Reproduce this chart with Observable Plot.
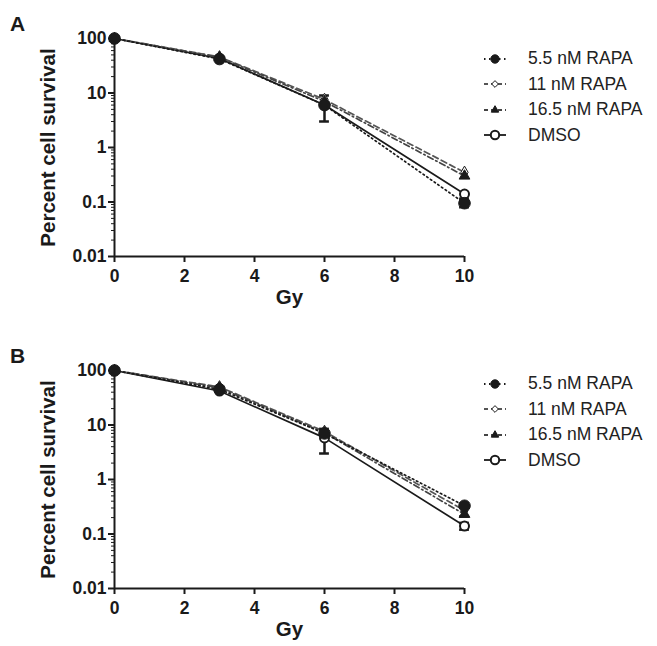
<!DOCTYPE html>
<html>
<head>
<meta charset="utf-8">
<script src="https://cdn.jsdelivr.net/npm/d3@7"></script>
<script src="https://cdn.jsdelivr.net/npm/@observablehq/plot@0.6"></script>
<style>
  body { margin: 0; background: #fff; font-family: "Liberation Sans", Arial, sans-serif; }
  #root { width: 657px; }
  .panel { position: relative; width: 657px; height: 332px; }
  .plabel { position: absolute; left: 10px; top: 12px; font-weight: bold; font-size: 21px; color: #1a1a1a; }
  .legend { position: absolute; left: 484px; font-size: 17.5px; color: #222; }
  .legend .row { display: flex; align-items: center; height: 25.5px; }
  .legend svg { margin-right: 22px; }
</style>
</head>
<body>
<div id="root"></div>
<script>
const gy = [0, 3, 6, 10];
const seriesNames = ["5.5 nM RAPA", "11 nM RAPA", "16.5 nM RAPA", "DMSO"];

// Panel A values (percent survival)
const a_55 = [100, 42, 6.0, 0.095];
const a_11 = [100, 46, 7.6, 0.35];
const a_165 = [100, 45, 7.0, 0.30];
const a_dmso = [100, 43, 6.0, 0.14];
// Panel A error bars
const a_errGy = [6, 10];
const a_errLo = [3.0, 0.08];
const a_errHi = [9.0, 0.115];

// Panel B values
const b_55 = [100, 45, 7.0, 0.33];
const b_11 = [100, 50, 7.6, 0.27];
const b_165 = [100, 48, 7.2, 0.23];
const b_dmso = [100, 42, 5.8, 0.14];
const b_errGy = [6, 10, 10];
const b_errLo = [3.0, 0.12, 0.21];
const b_errHi = [8.5, 0.16, 0.36];

const yTicks = [100, 10, 1, 0.1, 0.01];
const xTicks = [0, 2, 4, 6, 8, 10];

const styles = {
  "5.5 nM RAPA": {stroke: "#1a1a1a", dash: "1.5,3", symbol: "circle", fill: "#1a1a1a", r: 5.8, sw: 1},
  "11 nM RAPA": {stroke: "#555", dash: "6,3.5", symbol: "diamond", fill: "#fff", r: 3.8, sw: 1},
  "16.5 nM RAPA": {stroke: "#444", dash: "6,3,1.5,3", symbol: "triangle", fill: "#1a1a1a", r: 4, sw: 1},
  "DMSO": {stroke: "#1a1a1a", dash: null, symbol: "circle", fill: "#fff", r: 4.5, sw: 2}
};

const minor = [];
for (let e = -2; e < 2; e++) for (let k = 2; k <= 9; k++) minor.push(k * Math.pow(10, e));

function makeRows(vals) {
  const rows = [];
  seriesNames.forEach((s, i) => vals[i].forEach((v, j) => rows.push({series: s, gy: gy[j], v})));
  return rows;
}
function makeErr(g, lo, hi) { return g.map((d, i) => ({gy: d, lo: lo[i], hi: hi[i]})); }

function panel(label, vals, err, legendTop) {
  const rows = makeRows(vals);
  const drawOrder = ["DMSO", "11 nM RAPA", "16.5 nM RAPA", "5.5 nM RAPA"];
  const marks = [];
  for (const s of drawOrder) {
    const st = styles[s];
    marks.push(Plot.line(rows.filter(d => d.series === s), {x: "gy", y: "v", stroke: st.stroke, strokeWidth: 1.7, strokeDasharray: st.dash}));
  }
  marks.push(Plot.ruleX(err, {x: "gy", y1: "lo", y2: "hi", stroke: "#1a1a1a", strokeWidth: 2.5}));
  marks.push(Plot.ruleY(err, {y: "lo", x1: d => d.gy - 0.14, x2: d => d.gy + 0.14, stroke: "#1a1a1a", strokeWidth: 2.5}));
  marks.push(Plot.ruleY(err, {y: "hi", x1: d => d.gy - 0.14, x2: d => d.gy + 0.14, stroke: "#1a1a1a", strokeWidth: 2.5}));
  for (const s of drawOrder) {
    const st = styles[s];
    marks.push(Plot.dot(rows.filter(d => d.series === s), {x: "gy", y: "v", symbol: st.symbol, r: st.r, fill: st.fill, stroke: "#1a1a1a", strokeWidth: st.sw}));
  }
  marks.push(Plot.axisY({ticks: minor, tickSize: 3, tickFormat: () => "", strokeWidth: 1, label: null}));
  marks.push(Plot.axisY({ticks: yTicks, tickSize: 6, tickPadding: 2, tickFormat: d => String(d), strokeWidth: 2, label: null, fontWeight: "bold", fontSize: 17.5}));
  marks.push(Plot.axisX({ticks: xTicks, tickSize: 6, tickPadding: 7, strokeWidth: 2, label: null, fontWeight: "bold", fontSize: 17.5}));
  marks.push(Plot.ruleX([0], {stroke: "#1a1a1a", strokeWidth: 2}));
  marks.push(Plot.ruleY([0.01], {stroke: "#1a1a1a", strokeWidth: 2}));
  marks.push(Plot.text(["Percent cell survival"], {frameAnchor: "left", textAnchor: "middle", text: d => d, rotate: -90, dx: -66, fontSize: 20.5, fontWeight: "bold", fill: "#1a1a1a"}));
  marks.push(Plot.text(["Gy"], {frameAnchor: "bottom", text: d => d, dy: 47, fontSize: 20.5, fontWeight: "bold", fill: "#1a1a1a"}));

  const chart = Plot.plot({
    width: 657, height: 332,
    marginLeft: 114, marginRight: 193, marginTop: 38, marginBottom: 76,
    x: {domain: [0, 10]},
    y: {type: "log", domain: [0.01, 100]},
    style: {fontFamily: "Liberation Sans, Arial, sans-serif", color: "#1a1a1a", overflow: "visible"},
    marks
  });

  const div = document.createElement("div");
  div.className = "panel";
  div.appendChild(chart);
  const pl = document.createElement("div");
  pl.className = "plabel"; pl.textContent = label;
  div.appendChild(pl);

  const lg = document.createElement("div");
  lg.className = "legend";
  lg.style.top = legendTop + "px";
  for (const s of seriesNames) {
    const st = styles[s];
    const row = document.createElement("div"); row.className = "row";
    const sv = d3.create("svg").attr("width", 22).attr("height", 14);
    sv.append("line").attr("x1", 0).attr("x2", 22).attr("y1", 7).attr("y2", 7)
      .attr("stroke", st.stroke).attr("stroke-width", 1.8).attr("stroke-dasharray", st.dash ? (st.dash === "1.5,3" ? "1.5,3.5" : "4,3") : null);
    const sym = {circle: d3.symbolCircle, diamond: d3.symbolDiamond2, triangle: d3.symbolTriangle}[st.symbol];
    const rr = st.symbol === "circle" ? 4.2 : st.r;
    const area = {circle: Math.PI * rr * rr, diamond: 2 * rr * rr, triangle: 1.5 * rr * rr}[st.symbol];
    sv.append("path").attr("d", d3.symbol(sym, area)()).attr("transform", "translate(11,7)")
      .attr("fill", st.fill).attr("stroke", "#1a1a1a").attr("stroke-width", st.sw);
    row.appendChild(sv.node());
    const t = document.createElement("span"); t.textContent = s;
    row.appendChild(t);
    lg.appendChild(row);
  }
  div.appendChild(lg);
  return div;
}

const root = document.getElementById("root");
root.appendChild(panel("A", [a_55, a_11, a_165, a_dmso], makeErr(a_errGy, a_errLo, a_errHi), 46));
root.appendChild(panel("B", [b_55, b_11, b_165, b_dmso], makeErr(b_errGy, b_errLo, b_errHi), 39));
</script>
</body>
</html>
